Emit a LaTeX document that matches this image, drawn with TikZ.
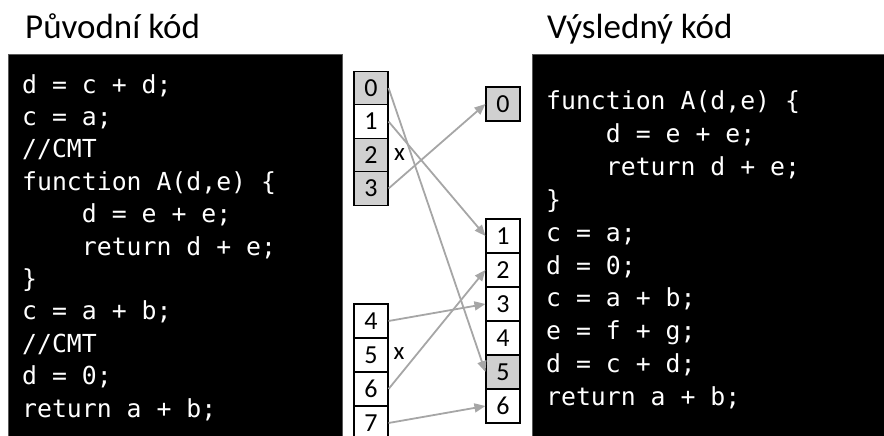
\documentclass[tikz,border=0pt]{standalone}
\usepackage{fontspec}
\setmainfont{Carlito}
\setmonofont{DejaVu Sans Mono}
\usetikzlibrary{arrows.meta}
\definecolor{boxgray}{HTML}{D0D0D0}
\definecolor{arrgray}{HTML}{A6A6A6}
\tikzset{
  x=1pt, y=-1pt,
  title/.style={anchor=base west, inner sep=0pt, font=\fontsize{35}{40}\selectfont},
  code/.style={anchor=base west, inner sep=0pt, text=white, font=\ttfamily\fontsize{24.8}{30}\selectfont},
  cell/.style={draw=black, line width=1.1pt, minimum width=34pt, inner sep=0pt, font=\fontsize{26}{30}\selectfont, fill=white},
  grey/.style={fill=boxgray},
  mark x/.style={inner sep=0pt, font=\fontsize{25}{28}\selectfont},
  arr/.style={draw=arrgray, line width=1.8pt, -{Triangle[length=11pt, width=9pt]}},
  panel/.style={fill=black, draw=black!65, line width=1pt}
}
\begin{document}
\begin{tikzpicture}
\useasboundingbox (0,0) rectangle (884,436);
\clip (0,0) rectangle (884,436);
\frenchspacing
% titles
\node[title] (t1) at (25,39) {Původní kód};
\node[title] (t2) at (547,39) {Výsledný kód};
% panels
\path[panel] (8,55) rectangle (342,450);
\path[panel] (532,55) rectangle (900,450);
% left code
\node[code] (a1) at (22,93) {d = c + d;};
\node[code] (a2) at (22,125.4) {c = a;};
\node[code] (a3) at (22,157.8) {//CMT};
\node[code] (a4) at (22,190.2) {function A(d,e) \{};
\node[code] (a5) at (22,222.6) {\phantom{dddd}d = e + e;};
\node[code] (a6) at (22,255) {\phantom{dddd}return d + e;};
\node[code] (a7) at (22,287.4) {\}};
\node[code] (a8) at (22,319.8) {c = a + b;};
\node[code] (a9) at (22,352.2) {//CMT};
\node[code] (a10) at (22,384.6) {d = 0;};
\node[code] (a11) at (22,417) {return a + b;};
% right code
\node[code] (b1) at (546,110) {function A(d,e) \{};
\node[code] (b2) at (546,142.8) {\phantom{dddd}d = e + e;};
\node[code] (b3) at (546,175.6) {\phantom{dddd}return d + e;};
\node[code] (b4) at (546,208.4) {\}};
\node[code] (b5) at (546,241.2) {c = a;};
\node[code] (b6) at (546,274) {d = 0;};
\node[code] (b7) at (546,306.8) {c = a + b;};
\node[code] (b8) at (546,339.6) {e = f + g;};
\node[code] (b9) at (546,372.4) {d = c + d;};
\node[code] (b10) at (546,405.2) {return a + b;};
% left cells
\node[cell, grey, minimum height=33.5pt] (L0) at (371,88) {0};
\node[cell, minimum height=33.5pt] (L1) at (371,121.5) {1};
\node[cell, grey, minimum height=33.5pt] (L2) at (371,155) {2};
\node[cell, grey, minimum height=33.5pt] (L3) at (371,188.5) {3};
\node[cell, minimum height=34pt] (L4) at (371,321) {4};
\node[cell, minimum height=34pt] (L5) at (371,355) {5};
\node[cell, minimum height=34pt] (L6) at (371,389) {6};
\node[cell, minimum height=34pt] (L7) at (371,423) {7};
\node[mark x] (x1) at (399.5,155) {x};
\node[mark x] (x2) at (399,354) {x};
% right cells
\node[cell, grey, minimum height=34pt] (R0) at (503,104) {0};
\node[cell, minimum height=34pt] (R1) at (503,236) {1};
\node[cell, minimum height=34pt] (R2) at (503,270) {2};
\node[cell, minimum height=34pt] (R3) at (503,304) {3};
\node[cell, minimum height=34pt] (R4) at (503,338) {4};
\node[cell, grey, minimum height=34pt] (R5) at (503,372) {5};
\node[cell, minimum height=34pt] (R6) at (503,406) {6};
% arrows
\draw[arr] (L0.east) -- (R5.west);
\draw[arr] (L1.east) -- (R1.west);
\draw[arr] (L3.east) -- (R0.west);
\draw[arr] (L4.east) -- (R3.west);
\draw[arr] (L6.east) -- (R2.west);
\draw[arr] (L7.east) -- (R6.west);
\end{tikzpicture}
\end{document}
